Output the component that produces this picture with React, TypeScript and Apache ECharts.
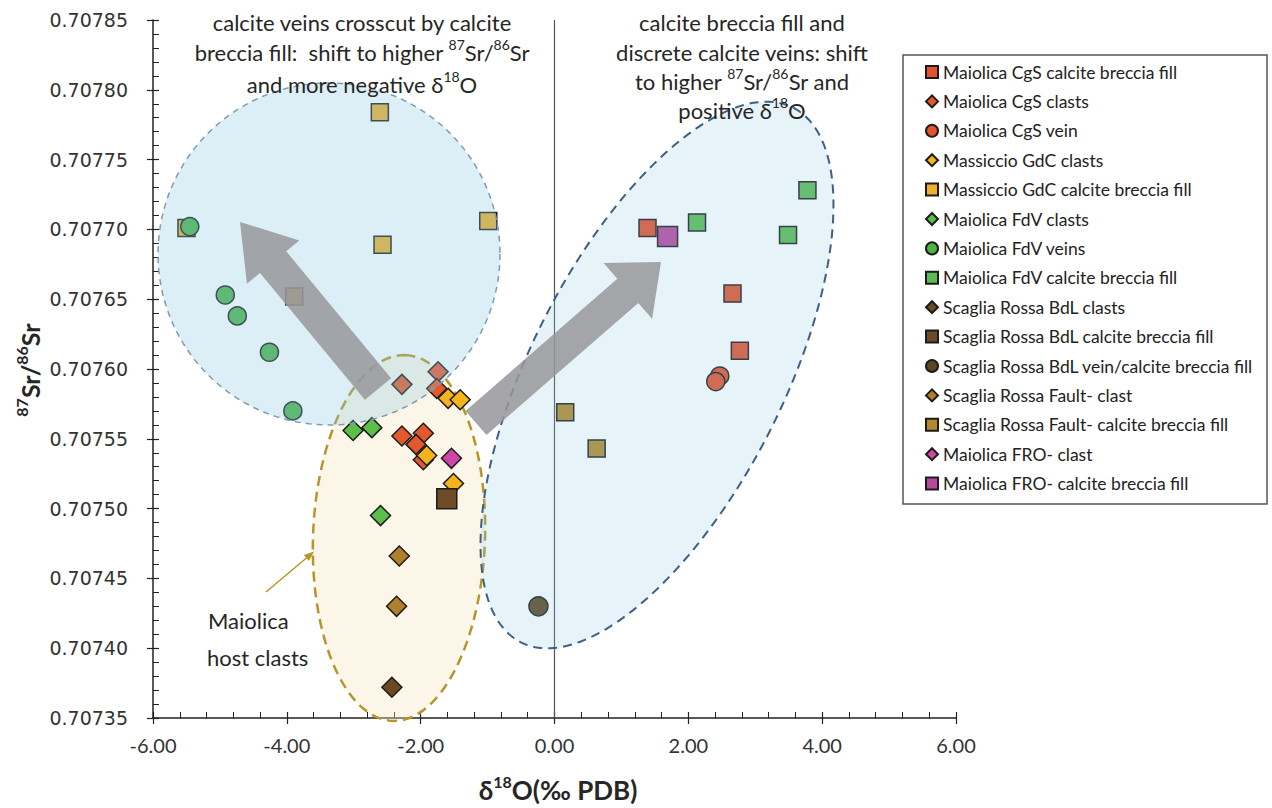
import React, { useEffect, useRef } from 'react';
import * as echarts from 'echarts';

// ---------- axis ranges ----------
const X_MIN = -6;
const X_MAX = 6;
const X_INTERVAL = 2;
const Y_MIN = 0.70735;
const Y_MAX = 0.70785;
const Y_INTERVAL = 0.00005;

// ---------- series ----------
const seriesNames = [
  'Maiolica CgS calcite breccia fill',
  'Maiolica CgS clasts',
  'Maiolica CgS vein',
  'Massiccio GdC clasts',
  'Massiccio GdC calcite breccia fill',
  'Maiolica FdV clasts',
  'Maiolica FdV veins',
  'Maiolica FdV calcite breccia fill',
  'Scaglia Rossa BdL clasts',
  'Scaglia Rossa BdL calcite breccia fill',
  'Scaglia Rossa BdL vein/calcite breccia fill',
  'Scaglia Rossa Fault- clast',
  'Scaglia Rossa Fault- calcite breccia fill',
  'Maiolica FRO- clast',
  'Maiolica FRO- calcite breccia fill',
];
const seriesSymbols = [
  'rect', 'diamond', 'circle', 'diamond', 'rect', 'diamond', 'circle', 'rect',
  'diamond', 'rect', 'circle', 'diamond', 'rect', 'diamond', 'rect',
];
const seriesColors = [
  '#E5522E', '#E4582C', '#E5522E', '#F6B41C', '#EDB02A', '#5CBF4A', '#4CB447', '#5DBB55',
  '#6B4A22', '#6E4A26', '#5E4522', '#B07F2B', '#B38A2E', '#CF45A8', '#B8479E',
];

const cgsBrecciaFill = [[1.39, 0.707701], [2.66, 0.707654], [2.77, 0.707613]];
const cgsClasts = [
  [-2.28, 0.707589], [-1.74, 0.707598], [-1.76, 0.707586], [-2.28, 0.707552],
  [-1.96, 0.707554], [-2.07, 0.707546], [-1.96, 0.707535],
];
const cgsVein = [[2.47, 0.707595], [2.41, 0.707591]];
const gdcClasts = [[-1.59, 0.707579], [-1.41, 0.707578], [-1.91, 0.707538], [-1.51, 0.707518]];
const gdcBrecciaFill = [
  [-5.5, 0.707701], [-2.61, 0.707784], [-2.57, 0.707689], [-0.99, 0.707706], [-3.89, 0.707652],
];
const fdvClasts = [[-3.01, 0.707556], [-2.73, 0.707558], [-2.6, 0.707495]];
const fdvVeins = [
  [-5.45, 0.707702], [-4.92, 0.707653], [-4.74, 0.707638], [-4.26, 0.707612], [-3.91, 0.70757],
];
const fdvBrecciaFill = [[2.13, 0.707705], [3.78, 0.707728], [3.49, 0.707696]];
const bdlClasts = [[-2.43, 0.707372]];
const bdlBrecciaFill = [[-1.61, 0.707507]];
const bdlVein = [[-0.24, 0.70743]];
const faultClast = [[-2.32, 0.707466], [-2.36, 0.70743]];
const faultBrecciaFill = [[0.16, 0.707569], [0.63, 0.707543]];
const froClast = [[-1.54, 0.707536]];
const froBrecciaFill = [[1.69, 0.707695]];

const seriesData = [
  cgsBrecciaFill, cgsClasts, cgsVein, gdcClasts, gdcBrecciaFill, fdvClasts, fdvVeins,
  fdvBrecciaFill, bdlClasts, bdlBrecciaFill, bdlVein, faultClast, faultBrecciaFill,
  froClast, froBrecciaFill,
];
const seriesSizes = [17, 20, 18, 20, 17, 20, 18, 17, 20, 20, 19, 20, 17, 20, 20];

// ---------- helpers for annotation shapes ----------
type P = [number, number];
function ellipsePts(cx: number, cy: number, a: number, b: number, angleDeg: number, n = 160): P[] {
  const t = (angleDeg * Math.PI) / 180;
  const ux = Math.cos(t), uy = Math.sin(t);
  const vx = -uy, vy = ux;
  const pts: P[] = [];
  for (let i = 0; i < n; i++) {
    const th = (2 * Math.PI * i) / n;
    const ca = a * Math.cos(th), sb = b * Math.sin(th);
    pts.push([cx + ca * ux + sb * vx, cy + ca * uy + sb * vy]);
  }
  return pts;
}
function arrowPts(tail: P, tip: P, sh: number, hh: number, hl: number): P[] {
  const dx = tip[0] - tail[0], dy = tip[1] - tail[1];
  const L = Math.hypot(dx, dy);
  const ux = dx / L, uy = dy / L;
  const nx = -uy, ny = ux;
  const bx = tip[0] - ux * hl, by = tip[1] - uy * hl;
  return [
    [tail[0] + nx * sh, tail[1] + ny * sh],
    [bx + nx * sh, by + ny * sh],
    [bx + nx * hh, by + ny * hh],
    tip,
    [bx - nx * hh, by - ny * hh],
    [bx - nx * sh, by - ny * sh],
    [tail[0] - nx * sh, tail[1] - ny * sh],
  ];
}

const FONT = 'Lato, "Open Sans", sans-serif';
const TXT = '#262626';

function richText(x: number, y: number, text: string, size: number, bold = false, align = 'center', rotation = 0) {
  return {
    type: 'text',
    x,
    y,
    rotation,
    z: 30,
    silent: true,
    style: {
      text,
      align,
      verticalAlign: 'middle',
      fill: TXT,
      font: `${bold ? 'bold ' : ''}${size}px ${FONT}`,
      rich: {
        n: {
          fontFamily: FONT,
          fontSize: size,
          fontWeight: bold ? 'bold' : 'normal',
          fill: TXT,
          lineHeight: Math.round(size * 1.3),
        },
        s: {
          fontFamily: FONT,
          fontSize: Math.round(size * 0.62),
          fontWeight: bold ? 'bold' : 'normal',
          fill: TXT,
          lineHeight: Math.round(size * 0.7),
          verticalAlign: 'top',
        },
      },
    },
  };
}

export default function App() {
  const ref = useRef<HTMLDivElement>(null);

  useEffect(() => {
    if (!ref.current) return;
    const chart = echarts.init(ref.current, undefined, { renderer: 'svg' });

    const series: any[] = seriesNames.map((name, i) => ({
      name,
      type: 'scatter',
      data: seriesData[i],
      symbol: seriesSymbols[i],
      symbolSize: seriesSizes[i],
      z: 2,
      itemStyle: {
        color: seriesColors[i],
        borderColor: '#1c1c1c',
        borderWidth: 1.5,
        opacity: 1,
      },
      emphasis: { disabled: true },
    }));
    series[0].markLine = {
      silent: true,
      symbol: ['none', 'none'],
      label: { show: false },
      lineStyle: { color: '#555', width: 1.2, type: 'solid' },
      data: [{ xAxis: 0 }],
    };

    const leftCircle = ellipsePts(329, 254, 171, 171, 0);
    const rightEllipse = ellipsePts(657, 375, 300, 126, -63);
    const yellowEllipse = ellipsePts(399, 538, 183, 86, -88);

    const graphic: any[] = [
      // yellow host-clast ellipse (behind the points)
      {
        type: 'polygon', z: 1, silent: true,
        shape: { points: yellowEllipse },
        style: { fill: 'rgba(245,228,190,0.35)', stroke: '#B8952A', lineWidth: 2.5, lineDash: [10, 6] },
      },
      // translucent blue fields (over the points)
      {
        type: 'polygon', z: 10, silent: true,
        shape: { points: leftCircle },
        style: { fill: 'rgba(140,200,225,0.3)', stroke: '#7F9BB0', lineWidth: 1.5, lineDash: [6, 5] },
      },
      {
        type: 'polygon', z: 10, silent: true,
        shape: { points: rightEllipse },
        style: { fill: 'rgba(140,200,225,0.22)', stroke: '#3F5F86', lineWidth: 2, lineDash: [9, 6] },
      },
      // grey arrows
      {
        type: 'polygon', z: 12, silent: true,
        shape: { points: arrowPts([378, 389], [240, 222], 17, 34, 52) },
        style: { fill: 'rgba(150,150,155,0.85)' },
      },
      {
        type: 'polygon', z: 12, silent: true,
        shape: { points: arrowPts([476, 423], [661, 262], 16, 37, 44) },
        style: { fill: 'rgba(150,150,155,0.85)' },
      },
      // small pointer for "Maiolica host clasts"
      {
        type: 'line', z: 12, silent: true,
        shape: { x1: 266, y1: 592, x2: 310, y2: 555 },
        style: { stroke: '#B8952A', lineWidth: 1.5 },
      },
      {
        type: 'polygon', z: 12, silent: true,
        shape: { points: arrowPts([300, 563.4], [314, 551.6], 0, 4, 10) },
        style: { fill: '#B8952A' },
      },
      // legend frame
      {
        type: 'rect', z: 0, silent: true,
        shape: { x: 903, y: 55, width: 364, height: 449 },
        style: { fill: '#fff', stroke: '#555', lineWidth: 1.5 },
      },
      // annotations
      richText(362, 22, '{n|calcite veins crosscut by calcite}', 22),
      richText(362, 52, '{n|breccia fill:  shift to higher }{s|87}{n|Sr/}{s|86}{n|Sr}', 22),
      richText(362, 84, '{n|and more negative δ}{s|18}{n|O}', 22),
      richText(742, 22, '{n|calcite breccia fill and}', 22),
      richText(742, 52, '{n|discrete calcite veins: shift}', 22),
      richText(742, 81, '{n|to higher }{s|87}{n|Sr/}{s|86}{n|Sr and}', 22),
      richText(742, 110, '{n|positive δ}{s|18}{n|O}', 22),
      richText(208, 620, '{n|Maiolica}', 22, false, 'left'),
      richText(207, 657, '{n|host clasts}', 22, false, 'left'),
      // axis titles
      richText(30, 370, '{s|87}{n|Sr/}{s|86}{n|Sr}', 25, true, 'center', Math.PI / 2),
      richText(558, 790, '{n|δ}{s|18}{n|O(‰ PDB)}', 26, true, 'center'),
    ];

    const axisLineStyle = { color: '#222', width: 1.5 };

    const option: any = {
      animation: false,
      backgroundColor: '#fff',
      grid: { left: 153, right: 316, top: 20, bottom: 90, containLabel: false },
      xAxis: [
        {
          type: 'value', min: X_MIN, max: X_MAX, interval: X_INTERVAL, position: 'bottom',
          axisLine: { show: true, onZero: false, lineStyle: axisLineStyle },
          axisTick: { show: true, inside: true, length: 6, lineStyle: { color: '#222', width: 1.2 } },
          minorTick: { show: true, splitNumber: 5, length: 6, lineStyle: { color: '#222', width: 1 } },
          axisLabel: {
            formatter: (v: number) => v.toFixed(2), fontFamily: FONT, fontSize: 20, color: '#333', margin: 17,
          },
          splitLine: { show: false },
          minorSplitLine: { show: false },
        },
        {
          type: 'value', min: X_MIN, max: X_MAX, interval: X_INTERVAL, position: 'bottom',
          axisLine: { show: false, onZero: false },
          axisTick: { show: true, inside: false, length: 6, lineStyle: { color: '#222', width: 1.2 } },
          axisLabel: { show: false },
          splitLine: { show: false },
        },
      ],
      yAxis: [
        {
          type: 'value', min: Y_MIN, max: Y_MAX, interval: Y_INTERVAL, position: 'left',
          axisLine: { show: true, onZero: false, lineStyle: axisLineStyle },
          axisTick: { show: true, inside: true, length: 6, lineStyle: { color: '#222', width: 1.2 } },
          minorTick: { show: true, splitNumber: 5, length: 6, lineStyle: { color: '#222', width: 1 } },
          axisLabel: {
            formatter: (v: number) => v.toFixed(5), fontFamily: '"DejaVu Sans", sans-serif', fontSize: 19,
            color: '#333', margin: 25,
          },
          splitLine: { show: false },
          minorSplitLine: { show: false },
        },
        {
          type: 'value', min: Y_MIN, max: Y_MAX, interval: Y_INTERVAL, position: 'left',
          axisLine: { show: false, onZero: false },
          axisTick: { show: true, inside: false, length: 6, lineStyle: { color: '#222', width: 1.2 } },
          axisLabel: { show: false },
          splitLine: { show: false },
        },
      ],
      legend: {
        show: true,
        orient: 'vertical',
        left: 925,
        top: 63,
        padding: 0,
        itemGap: 11.4,
        itemWidth: 12,
        itemHeight: 12,
        selectedMode: false,
        data: seriesNames,
        textStyle: { fontFamily: FONT, fontSize: 17.5, color: '#222', lineHeight: 18 },
        z: 5,
      },
      graphic,
      series,
    };

    chart.setOption(option);
    return () => chart.dispose();
  }, []);

  return (
    <div
      ref={ref}
      style={{ position: 'fixed', left: 0, top: 0, width: 1272, height: 808, background: '#fff' }}
    />
  );
}
